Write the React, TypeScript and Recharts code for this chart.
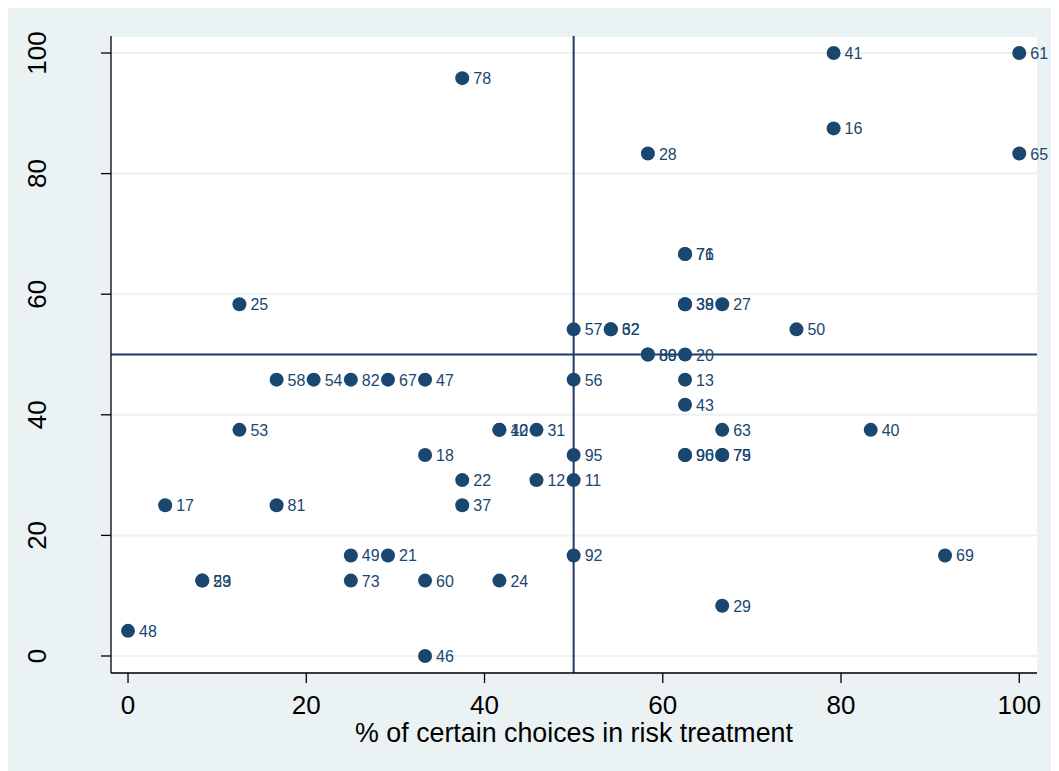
import React from "react"
import { ScatterChart, Scatter, XAxis, YAxis, CartesianGrid, ReferenceLine } from "recharts"

// % certain choices in risk treatment (x), second measure (y), subject id
const xVals: number[] = [
  79.17, 100, 37.5, 79.17, 58.33, 100, 62.5, 62.5, 62.5, 62.5, 66.67, 12.5,
  50, 54.17, 54.17, 75, 58.33, 58.33, 62.5, 16.67, 20.83, 25, 29.17, 33.33,
  50, 62.5, 62.5, 12.5, 41.67, 41.67, 45.83, 66.67, 83.33, 33.33, 50, 62.5,
  62.5, 66.67, 66.67, 37.5, 45.83, 50, 4.17, 16.67, 37.5, 25, 29.17, 50,
  91.67, 8.33, 8.33, 25, 33.33, 41.67, 66.67, 0, 33.33,
]
const yVals: number[] = [
  100, 100, 95.83, 87.5, 83.33, 83.33, 66.67, 66.67, 58.33, 58.33, 58.33, 58.33,
  54.17, 54.17, 54.17, 54.17, 50, 50, 50, 45.83, 45.83, 45.83, 45.83, 45.83,
  45.83, 45.83, 41.67, 37.5, 37.5, 37.5, 37.5, 37.5, 37.5, 33.33, 33.33, 33.33,
  33.33, 33.33, 33.33, 29.17, 29.17, 29.17, 25, 25, 25, 16.67, 16.67, 16.67,
  16.67, 12.5, 12.5, 12.5, 12.5, 12.5, 8.33, 4.17, 0,
]
const ids: string[] = [
  "41", "61", "78", "16", "28", "65", "71", "76", "38", "39", "27", "25",
  "57", "62", "32", "50", "80", "89", "20", "58", "54", "82", "67", "47",
  "56", "13", "43", "53", "10", "42", "31", "63", "40", "18", "95", "90",
  "96", "75", "79", "22", "12", "11", "17", "81", "37", "49", "21", "92",
  "69", "23", "59", "73", "60", "24", "29", "48", "46",
]
const xTicks: number[] = [0, 20, 40, 60, 80, 100]
const yTicks: number[] = [0, 20, 40, 60, 80, 100]

const data = xVals.map((x, i) => ({ x, y: yVals[i], id: ids[i] }))

const NAVY = "#1a476f"
const FONT = "'Liberation Sans', Arial, Helvetica, sans-serif"

const Marker = (props: any) => {
  const { cx, cy, payload } = props
  if (typeof cx !== "number" || typeof cy !== "number") return null
  return (
    <g>
      <circle cx={cx} cy={cy} r={7} fill={NAVY} />
      <text x={cx + 11} y={cy + 6} fill={NAVY} fontSize={16} fontFamily={FONT}>
        {payload.id}
      </text>
    </g>
  )
}

const XTick = (props: any) => {
  const { x, y, payload } = props
  return (
    <text x={x} y={y + 29} textAnchor="middle" fill="#000" fontSize={26} fontFamily={FONT}>
      {payload.value}
    </text>
  )
}

const YTick = (props: any) => {
  const { y, payload } = props
  const bx = 39
  return (
    <text
      x={bx}
      y={y}
      transform={`rotate(-90 ${bx} ${y})`}
      textAnchor="middle"
      fill="#000"
      fontSize={26}
      fontFamily={FONT}
    >
      {payload.value}
    </text>
  )
}

export default function App() {
  return (
    <div style={{ width: 1051, height: 763, marginLeft: -1, background: "#eaf2f3", overflow: "hidden" }}>
      <ScatterChart width={1051} height={763} margin={{ top: 28, right: 21, bottom: 0, left: 0 }}>
        <CartesianGrid vertical={false} stroke="#eaf2f3" strokeWidth={2} fill="#ffffff" />
        <XAxis
          type="number"
          dataKey="x"
          domain={[-1.91, 101.99]}
          ticks={xTicks}
          height={98}
          stroke="#000"
          strokeWidth={1.3}
          tickSize={10}
          tick={<XTick />}
          label={{
            value: "% of certain choices in risk treatment",
            position: "insideBottom",
            offset: 29,
            fill: "#000",
            fontSize: 26.8,
            fontFamily: FONT,
          }}
        />
        <YAxis
          type="number"
          dataKey="y"
          domain={[-2.82, 102.82]}
          ticks={yTicks}
          width={104}
          stroke="#000"
          strokeWidth={1.3}
          tickSize={10}
          tick={<YTick />}
        />
        <ReferenceLine x={50} stroke="#1f3a6a" strokeWidth={2} />
        <ReferenceLine y={50} stroke="#1f3a6a" strokeWidth={2} />
        <Scatter data={data} shape={<Marker />} isAnimationActive={false} />
      </ScatterChart>
    </div>
  )
}
